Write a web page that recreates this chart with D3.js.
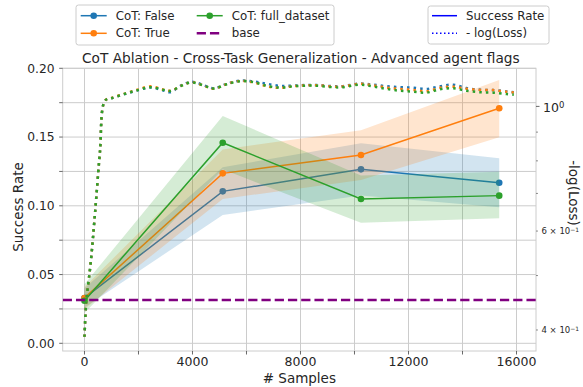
<!DOCTYPE html>
<html>
<head>
<meta charset="utf-8">
<script src="https://cdn.jsdelivr.net/npm/d3@7"></script>
<style>
  html, body { margin: 0; padding: 0; background: #fff; }
  svg { display: block; font-family: "DejaVu Sans", sans-serif; }
</style>
</head>
<body>
<div id="chart"></div>
<script>
// --- data ---
const successSamples = [0, 5120, 10240, 15360];
const cotFalseMean  = [0.033, 0.1105, 0.1265, 0.1168];
const cotFalseLow   = [0.026, 0.0933, 0.1075, 0.0989];
const cotFalseHigh  = [0.040, 0.128, 0.1455, 0.1345];
const cotTrueMean   = [0.033, 0.1236, 0.1369, 0.1709];
const cotTrueLow    = [0.025, 0.105, 0.1188, 0.1498];
const cotTrueHigh   = [0.041, 0.141, 0.155, 0.1915];
const cotFullMean   = [0.031, 0.1459, 0.1049, 0.1074];
const cotFullLow    = [0.022, 0.1265, 0.0877, 0.0909];
const cotFullHigh   = [0.043, 0.1653, 0.122, 0.1248];
const baseRate = 0.0315;

const lossSamples = [0, 60, 110, 230, 390, 570, 760, 1000, 1500, 2000, 2450, 2900, 3170, 3620, 3980,
  4590, 4810, 5270, 5760, 6250, 6750, 7240, 7730, 8470, 9460, 10200, 10700, 11200, 11700, 12180,
  12670, 13170, 13660, 14150, 14650, 15140, 15640, 15900];
const lossCotFalse = [0.389, 0.447, 0.471, 0.527, 0.646, 0.827, 1.024, 1.034, 1.052, 1.069, 1.081, 1.068, 1.060, 1.092, 1.106,
  1.083, 1.077, 1.097, 1.111, 1.108, 1.097, 1.088, 1.089, 1.092, 1.086, 1.098, 1.093, 1.086, 1.082, 1.080,
  1.074, 1.086, 1.093, 1.078, 1.071, 1.069, 1.063, 1.060];
const lossCotTrue = [0.389, 0.447, 0.471, 0.527, 0.646, 0.827, 1.024, 1.035, 1.054, 1.072, 1.086, 1.072, 1.066, 1.090, 1.104,
  1.081, 1.075, 1.096, 1.110, 1.104, 1.086, 1.079, 1.086, 1.091, 1.084, 1.097, 1.090, 1.080, 1.074, 1.070,
  1.064, 1.079, 1.084, 1.075, 1.070, 1.069, 1.062, 1.059];
const lossCotFull = [0.389, 0.447, 0.471, 0.527, 0.646, 0.827, 1.024, 1.034, 1.053, 1.070, 1.082, 1.071, 1.065, 1.090, 1.103,
  1.082, 1.076, 1.095, 1.109, 1.105, 1.088, 1.080, 1.086, 1.089, 1.081, 1.093, 1.085, 1.074, 1.066, 1.062,
  1.058, 1.073, 1.077, 1.066, 1.060, 1.058, 1.052, 1.049];

const xTicks = [0, 2000, 4000, 6000, 8000, 10000, 12000, 14000, 16000];
const xTickLabels = ["0", "", "4000", "", "8000", "", "12000", "", "16000"];
const yTicks = [0, 0.025, 0.05, 0.075, 0.1, 0.125, 0.15, 0.175, 0.2];
const yTickLabels = ["0.00", "", "0.05", "", "0.10", "", "0.15", "", "0.20"];
const y2MinorTicks = [0.4, 0.5, 0.6, 0.7, 0.8, 0.9];
const y2MinorLabels = ["4", "", "6", "", "", ""];

const seriesNames = ["CoT: False", "CoT: True", "CoT: full_dataset"];
const seriesColors = ["#1f77b4", "#ff7f0e", "#2ca02c"];

const series = [
  { mean: cotFalseMean, low: cotFalseLow, high: cotFalseHigh, loss: lossCotFalse },
  { mean: cotTrueMean, low: cotTrueLow, high: cotTrueHigh, loss: lossCotTrue },
  { mean: cotFullMean, low: cotFullLow, high: cotFullHigh, loss: lossCotFull }
].map((s, i) => ({ ...s, name: seriesNames[i], color: seriesColors[i] }));

// --- layout ---
const W = 583, H = 387;
const plotL = 62.7, plotR = 536, plotT = 68.3, plotB = 351;
const textColor = "#262626";
const gridColor = "#cccccc";

const svg = d3.select("#chart").append("svg")
  .attr("width", W).attr("height", H)
  .attr("viewBox", [0, 0, W, H]);

const x = d3.scaleLinear().domain([-807, 16722]).range([plotL, plotR]);
const y = d3.scaleLinear().domain([-0.0056, 0.2]).range([plotB, plotT]);
const y2 = d3.scaleLog().domain([0.367, 1.169]).range([plotB, plotT]);

svg.append("defs").append("clipPath").attr("id", "plotClip")
  .append("rect").attr("x", plotL).attr("y", plotT)
  .attr("width", plotR - plotL).attr("height", plotB - plotT);

// grid
const grid = svg.append("g");
grid.selectAll(".vg").data(xTicks).enter().append("line")
  .attr("x1", d => x(d)).attr("x2", d => x(d))
  .attr("y1", plotT).attr("y2", plotB)
  .attr("stroke", gridColor).attr("stroke-width", 1);
grid.selectAll(".hg").data(yTicks).enter().append("line")
  .attr("x1", plotL).attr("x2", plotR)
  .attr("y1", d => y(d)).attr("y2", d => y(d))
  .attr("stroke", gridColor).attr("stroke-width", 1);

// spines
svg.append("rect")
  .attr("x", plotL).attr("y", plotT)
  .attr("width", plotR - plotL).attr("height", plotB - plotT)
  .attr("fill", "none").attr("stroke", gridColor).attr("stroke-width", 1);

const plot = svg.append("g").attr("clip-path", "url(#plotClip)");

// success rate: bands + lines
const area = d3.area()
  .x((d, i) => x(successSamples[i]))
  .y0(d => y(d[0])).y1(d => y(d[1]));
const line = d3.line()
  .x((d, i) => x(successSamples[i]))
  .y(d => y(d));

series.forEach(s => {
  plot.append("path")
    .datum(s.low.map((v, i) => [v, s.high[i]]))
    .attr("d", area)
    .attr("fill", s.color).attr("fill-opacity", 0.2);
  plot.append("path")
    .datum(s.mean)
    .attr("d", line)
    .attr("fill", "none").attr("stroke", s.color).attr("stroke-width", 1.5);
  plot.selectAll(null).data(s.mean).enter().append("circle")
    .attr("cx", (d, i) => x(successSamples[i]))
    .attr("cy", d => y(d))
    .attr("r", 3.3)
    .attr("fill", s.color);
});

// base
plot.append("line")
  .attr("x1", plotL).attr("x2", plotR)
  .attr("y1", y(baseRate)).attr("y2", y(baseRate))
  .attr("stroke", "#800080").attr("stroke-width", 2.5)
  .attr("stroke-dasharray", "9.25,4");

// loss curves on the twin axis
const lossLine = d3.line()
  .x((d, i) => x(lossSamples[i]))
  .y(d => y2(d))
  .curve(d3.curveCatmullRom.alpha(0.5));
series.forEach(s => {
  plot.append("path")
    .datum(s.loss)
    .attr("d", lossLine)
    .attr("fill", "none").attr("stroke", s.color).attr("stroke-width", 2.5)
    .attr("stroke-dasharray", "2.5,4.1");
});

// left axis ticks
const yAxis = svg.append("g");
yTicks.forEach((t, i) => {
  yAxis.append("line")
    .attr("x1", plotL - 3.5).attr("x2", plotL)
    .attr("y1", y(t)).attr("y2", y(t))
    .attr("stroke", "#444").attr("stroke-width", 0.8);
  if (yTickLabels[i]) {
    yAxis.append("text")
      .attr("x", plotL - 8).attr("y", y(t)).attr("dy", "0.35em")
      .attr("text-anchor", "end").attr("font-size", 12.3).attr("fill", textColor)
      .text(yTickLabels[i]);
  }
});

// bottom axis ticks
const xAxis = svg.append("g");
xTicks.forEach((t, i) => {
  xAxis.append("line")
    .attr("x1", x(t)).attr("x2", x(t))
    .attr("y1", plotB).attr("y2", plotB + 3.5)
    .attr("stroke", "#444").attr("stroke-width", 0.8);
  if (xTickLabels[i]) {
    xAxis.append("text")
      .attr("x", x(t)).attr("y", 366)
      .attr("text-anchor", "middle").attr("font-size", 12.5).attr("fill", textColor)
      .text(xTickLabels[i]);
  }
});

// right (log) axis ticks
const rAxis = svg.append("g");
rAxis.append("line")
  .attr("x1", plotR).attr("x2", plotR + 3.5)
  .attr("y1", y2(1)).attr("y2", y2(1))
  .attr("stroke", "#444").attr("stroke-width", 0.8);
const majorLabel = rAxis.append("text")
  .attr("x", plotR + 7).attr("y", y2(1)).attr("dy", "0.45em")
  .attr("font-size", 12.5).attr("fill", textColor);
majorLabel.append("tspan").text("10");
majorLabel.append("tspan").attr("dy", "-0.5em").attr("font-size", 8.5).text("0");

y2MinorTicks.forEach((t, i) => {
  rAxis.append("line")
    .attr("x1", plotR).attr("x2", plotR + 2)
    .attr("y1", y2(t)).attr("y2", y2(t))
    .attr("stroke", "#444").attr("stroke-width", 0.6);
  if (y2MinorLabels[i]) {
    const lbl = rAxis.append("text")
      .attr("x", plotR + 5.5).attr("y", y2(t)).attr("dy", "0.4em")
      .attr("font-size", 8.5).attr("fill", textColor);
    lbl.append("tspan").text(y2MinorLabels[i] + " \u00d7 10");
    lbl.append("tspan").attr("dy", "-0.45em").attr("font-size", 6).text("\u22121");
  }
});

// axis labels and title
svg.append("text")
  .attr("transform", "translate(18,207) rotate(-90)")
  .attr("dy", "0.35em")
  .attr("text-anchor", "middle").attr("font-size", 13.5).attr("fill", textColor)
  .text("Success Rate");
svg.append("text")
  .attr("transform", "translate(574,193) rotate(90)")
  .attr("dy", "0.35em")
  .attr("text-anchor", "middle").attr("font-size", 13.5).attr("fill", textColor)
  .text("-log(Loss)");
svg.append("text")
  .attr("x", (plotL + plotR) / 2).attr("y", 383)
  .attr("text-anchor", "middle").attr("font-size", 13.5).attr("fill", textColor)
  .text("# Samples");
svg.append("text")
  .attr("x", (plotL + plotR) / 2 + 1.5).attr("y", 63)
  .attr("text-anchor", "middle").attr("font-size", 13.7).attr("fill", textColor)
  .text("CoT Ablation - Cross-Task Generalization - Advanced agent flags");

// legend 1 (success series + base)
const leg1 = svg.append("g");
leg1.append("rect")
  .attr("x", 76).attr("y", 5).attr("width", 258).attr("height", 40)
  .attr("rx", 2.5).attr("fill", "#fff").attr("fill-opacity", 0.8)
  .attr("stroke", gridColor).attr("stroke-width", 1);
const leg1Items = [
  { name: series[0].name, color: series[0].color, col: 0, row: 0, marker: true },
  { name: series[1].name, color: series[1].color, col: 0, row: 1, marker: true },
  { name: series[2].name, color: series[2].color, col: 1, row: 0, marker: true },
  { name: "base", color: "#800080", col: 1, row: 1, marker: false }
];
const colX = [80.7, 196.7];
const rowY = [15.7, 33.3];
leg1Items.forEach(it => {
  const lx = colX[it.col], ly = rowY[it.row];
  if (it.marker) {
    leg1.append("line").attr("x1", lx).attr("x2", lx + 26).attr("y1", ly).attr("y2", ly)
      .attr("stroke", it.color).attr("stroke-width", 1.5);
    leg1.append("circle").attr("cx", lx + 13).attr("cy", ly).attr("r", 3.3).attr("fill", it.color);
  } else {
    leg1.append("line").attr("x1", lx).attr("x2", lx + 26).attr("y1", ly).attr("y2", ly)
      .attr("stroke", it.color).attr("stroke-width", 2.5).attr("stroke-dasharray", "9.25,4");
  }
  leg1.append("text").attr("x", lx + 35).attr("y", ly).attr("dy", "0.35em")
    .attr("font-size", 11.8).attr("fill", textColor).text(it.name);
});

// legend 2 (line styles)
const leg2 = svg.append("g");
leg2.append("rect")
  .attr("x", 428).attr("y", 6).attr("width", 121).attr("height", 38)
  .attr("rx", 2.5).attr("fill", "#fff").attr("fill-opacity", 0.8)
  .attr("stroke", gridColor).attr("stroke-width", 1);
leg2.append("line").attr("x1", 432).attr("x2", 457).attr("y1", 15.7).attr("y2", 15.7)
  .attr("stroke", "#0000ff").attr("stroke-width", 1.5);
leg2.append("line").attr("x1", 432).attr("x2", 457).attr("y1", 33.3).attr("y2", 33.3)
  .attr("stroke", "#0000ff").attr("stroke-width", 1.5).attr("stroke-dasharray", "1.5,2.5");
leg2.append("text").attr("x", 466).attr("y", 15.7).attr("dy", "0.35em")
  .attr("font-size", 11.8).attr("fill", textColor).text("Success Rate");
leg2.append("text").attr("x", 466).attr("y", 33.3).attr("dy", "0.35em")
  .attr("font-size", 11.8).attr("fill", textColor).text("- log(Loss)");
</script>
</body>
</html>
